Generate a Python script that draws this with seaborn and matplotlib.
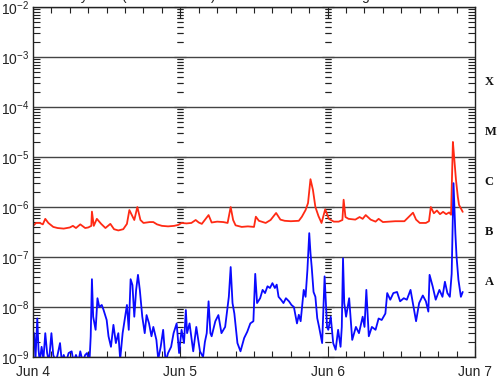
import numpy as np
import pandas as pd
import matplotlib
matplotlib.use("Agg")
import matplotlib.pyplot as plt
import matplotlib.dates as mdates
import matplotlib.ticker as mticker
import seaborn as sns

# ----------------------- Data -----------------------

start_time = pd.Timestamp("2012-06-04 00:00")
end_time = pd.Timestamp("2012-06-07 00:00")

# long channel (1-8 A), hours since start and flux in W/m^2
red_hours = [0.0, 0.5, 1.1, 1.6, 2.0, 2.5, 3.3, 4.0, 5.0, 6.0, 6.5, 7.0, 7.7, 8.5,
             9.0, 9.5, 9.6, 9.9, 10.4, 11.1, 11.8, 12.6, 13.2, 13.9, 14.7, 15.3,
             15.7, 16.1, 16.5, 17.0, 17.5, 18.0, 19.0, 19.6, 20.2, 21.0, 22.0,
             23.0, 23.7, 24.2, 25.0, 25.8, 26.5, 27.0, 27.5, 28.6, 29.1, 30.0,
             31.0, 31.7, 32.2, 32.6, 33.0, 34.0, 35.0, 36.0, 36.3, 36.8, 37.9,
             38.7, 39.6, 40.3, 41.0, 42.0, 43.3, 43.8, 44.4, 44.8, 45.2, 45.6,
             46.0, 46.5, 47.0, 47.6, 48.2, 49.0, 49.8, 50.4, 50.6, 50.9, 51.4,
             52.5, 53.2, 53.7, 54.2, 55.0, 55.8, 56.3, 57.0, 58.0, 59.0, 60.5,
             61.9, 62.4, 63.0, 64.0, 64.5, 64.8, 65.3, 65.8, 66.3, 66.8, 67.3,
             67.8, 68.1, 68.4, 68.6, 68.9, 69.2, 69.4, 70.0]
red_flux = [4.2e-7, 4.8e-7, 4.8e-7, 4.5e-7, 5.8e-7, 4.8e-7, 4.0e-7, 3.8e-7, 3.7e-7,
            3.9e-7, 4.2e-7, 3.8e-7, 4.5e-7, 3.8e-7, 3.9e-7, 4.2e-7, 8.1e-7, 4.2e-7,
            5.8e-7, 4.6e-7, 3.8e-7, 4.6e-7, 3.6e-7, 3.4e-7, 3.6e-7, 4.6e-7, 8.7e-7,
            6.9e-7, 5.5e-7, 1.0e-6, 5.5e-7, 4.8e-7, 5.0e-7, 5.0e-7, 4.5e-7, 4.2e-7,
            4.1e-7, 4.2e-7, 4.4e-7, 4.8e-7, 4.7e-7, 4.8e-7, 5.5e-7, 4.9e-7, 4.6e-7,
            6.9e-7, 4.9e-7, 5.1e-7, 5.0e-7, 4.8e-7, 1.0e-6, 5.5e-7, 4.3e-7, 4.0e-7,
            4.1e-7, 4.0e-7, 6.4e-7, 5.3e-7, 4.8e-7, 5.5e-7, 7.6e-7, 5.6e-7, 5.3e-7,
            5.2e-7, 5.3e-7, 6.4e-7, 8.7e-7, 1.2e-6, 3.6e-6, 2.2e-6, 1.0e-6, 6.6e-7,
            4.8e-7, 9.0e-7, 5.8e-7, 5.1e-7, 5.1e-7, 5.5e-7, 1.4e-6, 6.3e-7, 5.8e-7,
            5.6e-7, 6.3e-7, 5.8e-7, 6.9e-7, 5.6e-7, 5.1e-7, 5.8e-7, 5.0e-7, 5.1e-7,
            5.2e-7, 5.2e-7, 7.7e-7, 5.6e-7, 4.8e-7, 4.8e-7, 5.2e-7, 1.0e-6, 7.5e-7,
            8.5e-7, 7.2e-7, 8.0e-7, 7.2e-7, 7.8e-7, 7.0e-7, 2.0e-5, 1.0e-5, 3.5e-6,
            1.6e-6, 1.1e-6, 8.0e-7]

# short channel (0.5-4 A)
blue_hours = [0.0, 0.2, 0.4, 0.7, 0.9, 1.1, 1.4, 1.7, 2.0, 2.3, 2.6, 3.0, 3.3, 3.7,
              4.0, 4.4, 4.7, 5.0, 5.4, 5.8, 6.3, 6.6, 7.0, 7.4, 7.7, 8.1, 8.5, 8.8,
              9.2, 9.4, 9.6, 9.8, 10.2, 10.5, 10.8, 11.2, 11.5, 12.0, 12.3, 12.7,
              13.1, 13.5, 13.9, 14.2, 14.6, 15.0, 15.3, 15.6, 15.9, 16.2, 16.5,
              16.8, 17.1, 17.4, 17.8, 18.2, 18.5, 18.9, 19.3, 19.6, 20.1, 20.4,
              20.8, 21.2, 21.6, 22.0, 22.5, 22.9, 23.4, 23.8, 24.2, 24.6, 24.9,
              25.1, 25.5, 26.1, 26.6, 27.2, 27.7, 28.0, 28.3, 28.6, 28.9, 29.1,
              29.7, 30.2, 30.7, 31.3, 31.9, 32.2, 32.5, 32.8, 33.3, 33.8, 34.4,
              34.9, 35.4, 35.9, 36.2, 36.5, 37.0, 37.4, 37.8, 38.2, 38.6, 39.0,
              39.4, 39.7, 40.0, 40.4, 40.8, 41.2, 41.7, 42.1, 42.5, 43.0, 43.3,
              43.6, 44.1, 44.4, 44.7, 45.0, 45.2, 45.4, 45.7, 46.0, 46.3, 46.6,
              47.1, 47.5, 47.9, 48.1, 48.5, 48.9, 49.3, 49.7, 50.1, 50.3, 50.5,
              50.7, 51.0, 51.5, 52.0, 52.6, 53.1, 53.7, 54.0, 54.3, 54.7, 55.2,
              55.8, 56.3, 56.8, 57.4, 57.7, 58.2, 58.7, 59.3, 59.8, 60.4, 60.9,
              61.5, 62.0, 62.4, 62.9, 63.5, 64.0, 64.4, 64.6, 65.1, 65.6, 66.2,
              66.7, 67.1, 67.5, 67.9, 68.2, 68.5, 68.8, 69.0, 69.3, 69.7, 70.0]
blue_flux = [1.9e-9, 3.0e-9, 9e-10, 5.9e-9, 1.4e-9, 8e-10, 1.6e-9, 9e-10, 3.0e-9,
             1.2e-9, 8e-10, 3.0e-9, 1.1e-9, 8e-10, 1.1e-9, 1.9e-9, 8e-10, 1.1e-9,
             8e-10, 1.2e-9, 1.3e-9, 8e-10, 1.1e-9, 8e-10, 1.3e-9, 8e-10, 1.1e-9,
             1.2e-9, 8e-10, 2.6e-9, 3.6e-8, 6.4e-9, 3.5e-9, 1.5e-8, 1.0e-8, 1.1e-8,
             8.7e-9, 5.5e-9, 2.6e-9, 1.6e-9, 4.4e-9, 1.9e-9, 3.0e-9, 9e-10, 3.0e-9,
             6.4e-9, 1.1e-8, 3.5e-9, 3.6e-8, 2.75e-8, 6.4e-9, 2.2e-8, 4.4e-8, 2.2e-8,
             6.4e-9, 3.0e-9, 6.9e-9, 4.7e-9, 2.6e-9, 4.0e-9, 2.2e-9, 9e-10, 1.6e-9,
             3.5e-9, 8e-10, 1.2e-9, 1.6e-9, 3.0e-9, 4.7e-9, 1.2e-9, 3.5e-9, 1.9e-9,
             8.7e-9, 3.0e-9, 4.7e-9, 1.3e-9, 4.0e-9, 1.3e-9, 1.0e-9, 2.0e-9, 3.0e-9,
             1.3e-8, 3.0e-9, 2.6e-9, 5.2e-9, 6.9e-9, 3.0e-9, 4.0e-9, 1.6e-8, 6.3e-8,
             1.2e-8, 7.4e-9, 1.9e-9, 1.3e-9, 2.4e-9, 3.2e-9, 4.7e-9, 5.2e-9, 4.6e-8,
             1.2e-8, 1.5e-8, 2.2e-8, 1.9e-8, 2.6e-8, 2.4e-8, 3.0e-8, 2.4e-8, 2.8e-8,
             1.6e-8, 1.4e-8, 1.2e-8, 1.5e-8, 1.3e-8, 1.1e-8, 1.0e-8, 4.7e-9, 7.0e-9,
             5.2e-9, 2.2e-8, 1.6e-8, 5.5e-8, 3.0e-7, 1.2e-7, 6.3e-8, 2.0e-8, 1.6e-8,
             6.0e-9, 4.0e-9, 1.9e-9, 4.1e-8, 4.0e-9, 3.5e-9, 6.4e-9, 1.9e-9, 1.4e-9,
             3.5e-9, 1.6e-9, 4.0e-9, 9.4e-8, 1.2e-8, 6.4e-9, 1.5e-8, 2.2e-9, 4.0e-9,
             3.0e-9, 6.4e-9, 4.0e-9, 2.2e-8, 2.6e-9, 4.0e-9, 3.5e-9, 5.9e-9, 5.5e-9,
             7.4e-9, 1.9e-8, 1.4e-8, 1.9e-8, 2.0e-8, 1.3e-8, 1.5e-8, 1.4e-8, 2.2e-8,
             1.0e-8, 5.2e-9, 1.2e-8, 1.7e-8, 1.3e-8, 8.1e-9, 4.4e-8, 2.6e-8, 1.4e-8,
             2.2e-8, 1.6e-8, 3.2e-8, 1.9e-8, 1.6e-8, 4.6e-8, 3.0e-6, 3.0e-7, 1.0e-7,
             3.5e-8, 1.6e-8, 2.0e-8]

day_labels = ["Jun 4", "Jun 5", "Jun 6", "Jun 7"]
flare_classes = ["A", "B", "C", "M", "X"]
flare_levels = [1e-8, 1e-7, 1e-6, 1e-5, 1e-4]

title_left = "GOES Xray Flux (1 minute data)"
title_right = "Begin:  2012 Jun 4 0000 UTC"

# ----------------------- Build frames -----------------------

red_df = pd.DataFrame({"time": start_time + pd.to_timedelta(red_hours, unit="h"),
                       "flux": red_flux})
blue_df = pd.DataFrame({"time": start_time + pd.to_timedelta(blue_hours, unit="h"),
                        "flux": blue_flux})

# ----------------------- Plot -----------------------

sns.set_style("ticks")
plt.rcParams["font.family"] = ["Liberation Sans", "DejaVu Sans"]
plt.rcParams["mathtext.default"] = "regular"

fig = plt.figure(figsize=(5.0, 3.79), dpi=100)
ax = fig.add_axes([0.066, 0.058, 0.884, 0.9235])

sns.lineplot(data=red_df, x="time", y="flux", color="#ff2a14", lw=1.3, ax=ax)
sns.lineplot(data=blue_df, x="time", y="flux", color="#0a0aff", lw=1.3, ax=ax)

ax.set_yscale("log")
ax.set_ylim(1e-9, 1e-2)
ax.set_xlim(start_time, end_time)
ax.set_xlabel("")
ax.set_ylabel("")

# y ticks: decades + minor ticks on both sides
ax.yaxis.set_major_locator(mticker.LogLocator(base=10, numticks=20))
ax.yaxis.set_minor_locator(mticker.LogLocator(base=10, subs=np.arange(2, 10), numticks=20))
ax.yaxis.set_minor_formatter(mticker.NullFormatter())
ax.yaxis.set_major_formatter(mticker.FuncFormatter(
    lambda v, p: r"$10^{%d}$" % int(round(np.log10(v)))))
ax.tick_params(axis="y", which="both", direction="in", left=True, right=True,
               labelsize=10, pad=3, colors="#222222")
ax.tick_params(axis="y", which="major", length=0)
ax.tick_params(axis="y", which="minor", length=5, width=0.8)

# x ticks: days with 3-hour minor ticks, top and bottom
ax.xaxis.set_major_locator(mdates.DayLocator())
ax.xaxis.set_minor_locator(mdates.HourLocator(byhour=range(0, 24, 3)))
ax.set_xticks(pd.date_range(start_time, end_time, freq="D"))
ax.set_xticklabels(day_labels)
ax.tick_params(axis="x", which="both", direction="in", top=True, bottom=True,
               labelsize=10, pad=6, colors="#222222")
ax.tick_params(axis="x", which="major", length=8, width=0.8)
ax.tick_params(axis="x", which="minor", length=4, width=0.8)

# horizontal lines at each decade
ax.yaxis.grid(True, which="major", color="#444444", lw=1.0)
ax.xaxis.grid(False)

for side in ["left", "right", "top", "bottom"]:
    ax.spines[side].set_color("#222222")
    ax.spines[side].set_linewidth(1.0)

# tick columns at the day boundaries inside the plot
for frac in (1 / 3, 2 / 3):
    sec = ax.secondary_yaxis(frac)
    sec.yaxis.set_major_locator(mticker.LogLocator(base=10, numticks=20))
    sec.yaxis.set_minor_locator(mticker.LogLocator(base=10, subs=np.arange(2, 10), numticks=20))
    sec.yaxis.set_major_formatter(mticker.NullFormatter())
    sec.yaxis.set_minor_formatter(mticker.NullFormatter())
    for s in sec.spines.values():
        s.set_visible(False)
    sec.tick_params(which="both", direction="inout", left=True, right=True,
                    labelleft=False, labelright=False, colors="#222222")
    sec.tick_params(which="major", length=8, width=0.8)
    sec.tick_params(which="minor", length=5, width=0.8)

# flare class letters on the right
for letter, level in zip(flare_classes, flare_levels):
    ax.text(1.022, level * np.sqrt(10), letter, transform=ax.get_yaxis_transform(),
            ha="left", va="center", fontsize=9, fontweight="bold",
            family=["Liberation Serif", "DejaVu Serif"], color="#111111")

# title line, mostly cut off by the top edge
fig.text(0.03, 1.0, title_left, ha="left", va="baseline", fontsize=10, color="#222222")
fig.text(0.69, 1.0, title_right, ha="left", va="baseline", fontsize=10, color="#222222")

fig.savefig("out.png", dpi=100)
